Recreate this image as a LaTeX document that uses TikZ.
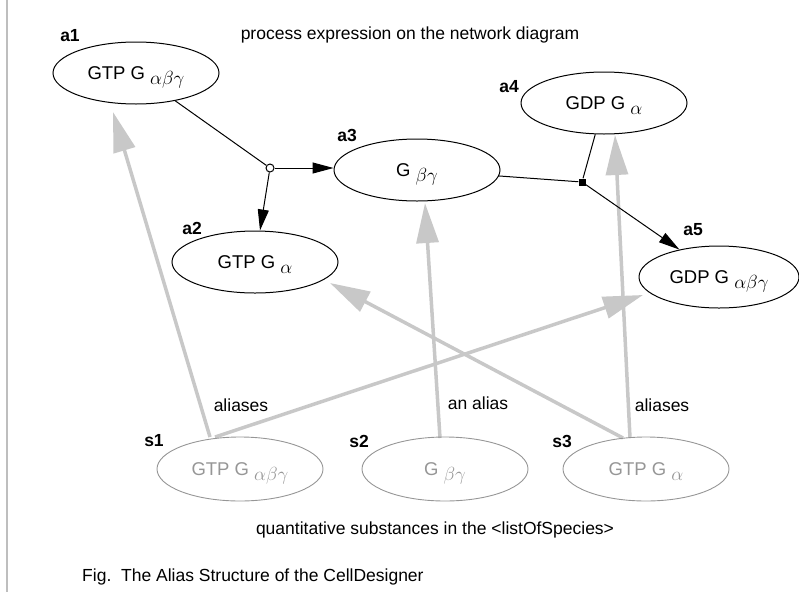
\documentclass[tikz,border=0pt]{standalone}
\usepackage{fontspec}
\setmainfont{Liberation Sans}
\usetikzlibrary{shapes.geometric,arrows.meta,calc}
\definecolor{aliasgray}{RGB}{200,200,200}
\definecolor{specgray}{RGB}{150,150,150}
\definecolor{framegray}{RGB}{190,190,190}
\pgfdeclarelayer{background}
\pgfsetlayers{background,main}
\newcommand\greeklow[1]{\smash{\raisebox{-5pt}{\scalebox{1.1}{$#1$}}}}
\begin{document}
\begin{tikzpicture}[x=1pt,y=1pt,
  nodetext/.style={font=\fontsize{18.5}{22}\selectfont},
  alias node/.style={ellipse, draw=black, line width=1pt, minimum width=166pt, minimum height=62pt, inner sep=0pt, nodetext},
  species node/.style={ellipse, draw=specgray, line width=0.9pt, text=specgray, minimum width=166pt, minimum height=64pt, inner sep=0pt, nodetext},
  tag/.style={font=\bfseries\fontsize{17.5}{21}\selectfont, inner sep=0pt},
  note/.style={font=\fontsize{17.5}{21}\selectfont, inner sep=0pt},
  reaction/.style={draw=black, line width=1pt},
  product/.style={reaction, -{Triangle[length=21pt,width=11pt]}},
  aliasarrow/.style={draw=aliasgray, line width=3.5pt, -{Triangle[length=40pt,width=22pt]}},
]
\useasboundingbox (0,0) rectangle (799,-592);
\draw[framegray, line width=2pt] (7,0) -- (7,-592);

% alias nodes
\node[alias node] (a1) at (136,-73) {GTP G \greeklow{\alpha\beta\gamma}};
\node[alias node] (a2) at (255,-262) {GTP G \greeklow{\alpha}};
\node[alias node] (a3) at (417,-170) {G \greeklow{\beta\gamma}};
\node[alias node] (a4) at (604,-103) {GDP G \greeklow{\alpha}};
\node[alias node, minimum width=160pt] (a5) at (719,-277) {GDP G \greeklow{\alpha\beta\gamma}};

% species nodes
\node[species node] (s1) at (240,-469) {GTP G \greeklow{\alpha\beta\gamma}};
\node[species node] (s2) at (445,-469) {G \greeklow{\beta\gamma}};
\node[species node] (s3) at (646,-469) {GTP G \greeklow{\alpha}};

% tags
\node[tag] (ta1) at (70,-36) {a1};
\node[tag] (ta2) at (192,-228) {a2};
\node[tag] (ta3) at (347,-135) {a3};
\node[tag] (ta4) at (509,-87) {a4};
\node[tag] (ta5) at (693,-230) {a5};
\node[tag] (ts1) at (154,-441) {s1};
\node[tag] (ts2) at (359,-441) {s2};
\node[tag] (ts3) at (562,-441) {s3};

% texts
\node[note] (title) at (410,-35) {process expression on the network diagram};
\node[note] (al1) at (241,-405) {aliases};
\node[note] (al2) at (478,-403) {an alias};
\node[note] (al3) at (662,-405) {aliases};
\node[note] (sub) at (435,-530) {quantitative substances in the <listOfSpecies>};
\node[note, anchor=west] (cap) at (82,-577) {Fig.\ \ The Alias Structure of the CellDesigner};

% reaction points
\node[circle, draw=black, fill=white, line width=1pt, minimum size=8pt, inner sep=0pt] (c) at (270,-168) {};
\node[rectangle, fill=black, minimum size=7pt, inner sep=0pt] (q) at (582,-182) {};

% reaction connectors
\draw[reaction] (a1) -- (c);
\draw[product] (c) -- (c -| a3.west);
\draw[product] (c) -- ($(a2.north)+(5,0)$);
\draw[reaction] (a3) -- (q);
\draw[reaction] (q) -- (a4);
\draw[product] (q) -- (a5);

% alias arrows
\begin{pgfonlayer}{background}
\draw[aliasarrow] ($(s1.center)+(-30,32)$) -- ($(a1.center)+(-23,-39)$);
\draw[aliasarrow] ($(s1.center)+(-25,32)$) -- ($(a5.center)+(-76,-18)$);
\draw[aliasarrow] ($(s2.center)+(-5,31)$) -- ($(a3.center)+(8,-33)$);
\draw[aliasarrow] ($(s3.center)+(-23,31)$) -- ($(a2.center)+(75,-21)$);
\draw[aliasarrow] ($(s3.center)+(-16,31)$) -- ($(a4.center)+(11,-32)$);
\end{pgfonlayer}
\end{tikzpicture}
\end{document}
